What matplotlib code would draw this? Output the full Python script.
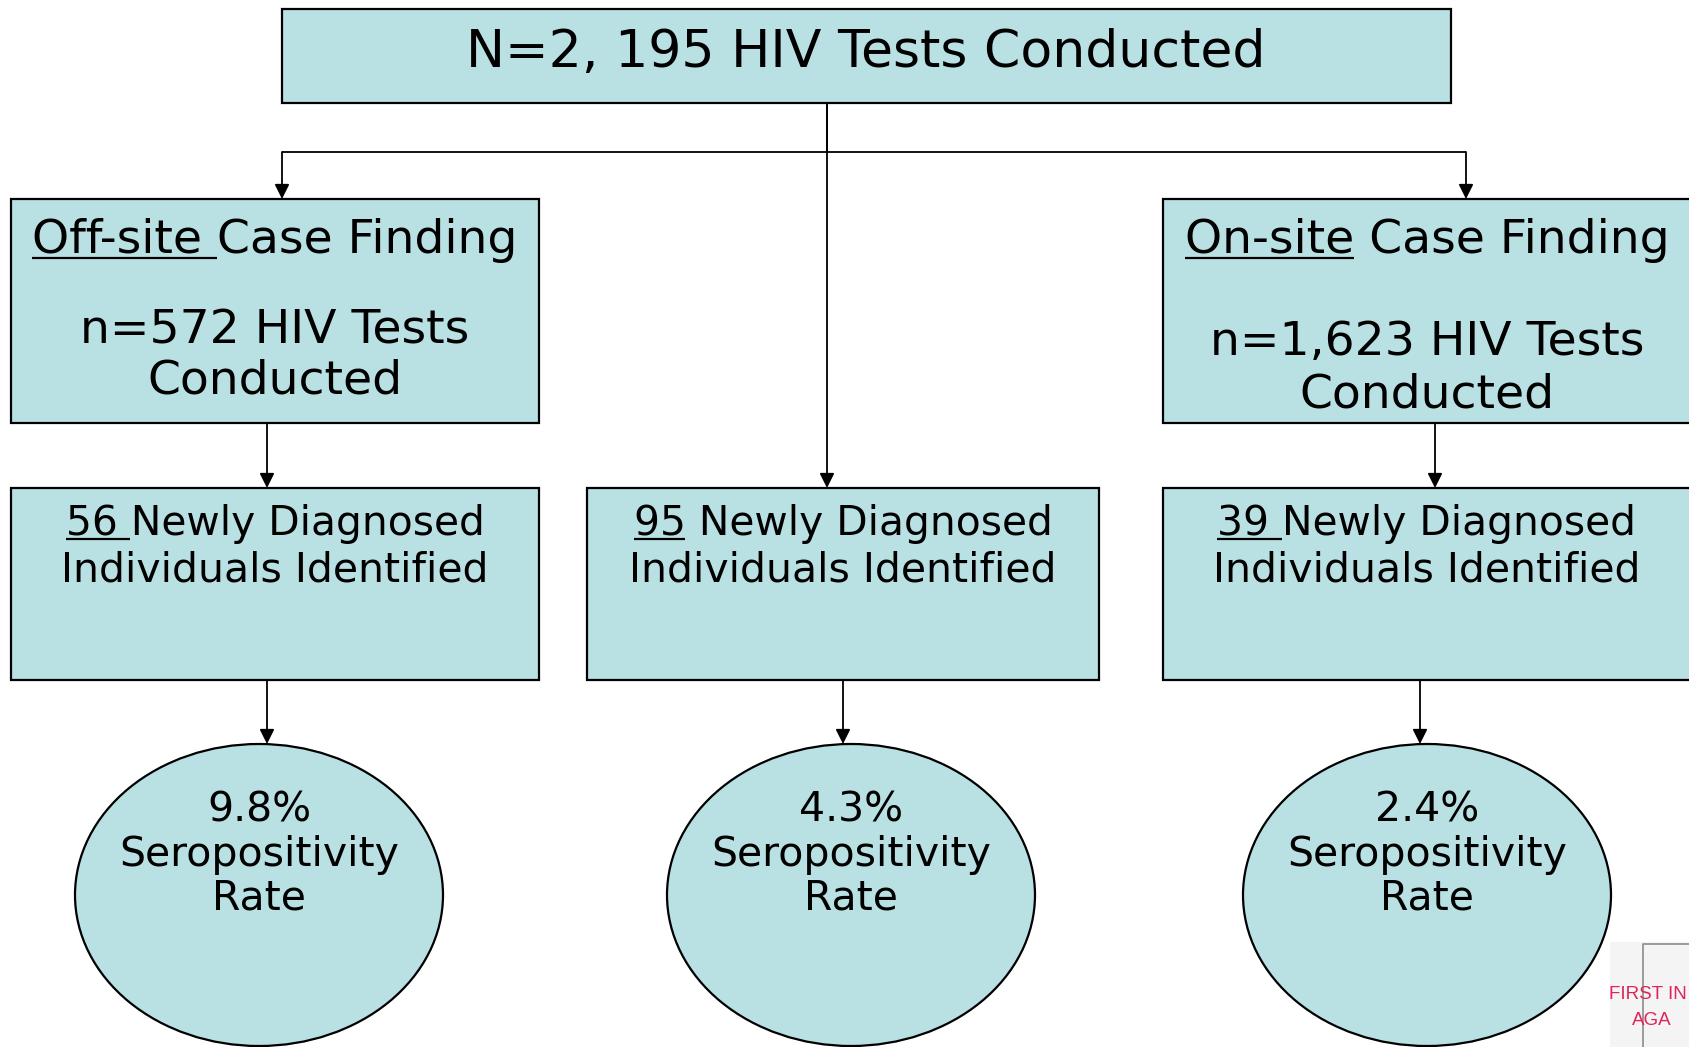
import matplotlib
matplotlib.use("Agg")
import matplotlib.pyplot as plt
from matplotlib.patches import Rectangle, Ellipse

# chart content
top_label = "N=2, 195 HIV Tests Conducted"
site_titles = ["Off-site Case Finding", "On-site Case Finding"]
site_underlined = ["Off-site ", "On-site"]
site_tests = ["572", "1,623"]
new_cases = ["56", "95", "39"]
new_underlined = ["56 ", "95", "39 "]
sero_rates = ["9.8%", "4.3%", "2.4%"]

W, H = 1689, 1047
FILL = "#b9e0e3"
FONT = "DejaVu Sans"

fig = plt.figure(figsize=(W / 100, H / 100), dpi=100)
ax = fig.add_axes([0, 0, 1, 1])
ax.set_xlim(0, W)
ax.set_ylim(H, 0)
ax.axis("off")


def box(x0, y0, x1, y1):
    ax.add_patch(Rectangle((x0, y0), x1 - x0, y1 - y0, facecolor=FILL,
                           edgecolor="black", lw=1.6, zorder=2))


def arrow(x, y0, y1):
    ax.annotate("", xy=(x, y1), xytext=(x, y0),
                arrowprops=dict(arrowstyle="-|>", color="black", lw=1.3,
                                mutation_scale=22, shrinkA=0, shrinkB=0),
                zorder=3)


def line(xs, ys):
    ax.plot(xs, ys, color="black", lw=1.3, solid_capstyle="butt", zorder=1)


underlines = []


def label(x, y, s, size, under=None):
    t = ax.text(x, y, s, ha="center", va="baseline", fontsize=size,
                family=FONT, color="black", zorder=4)
    if under:
        underlines.append((t, under, size))
    return t


# top box
box(282, 9, 1451, 103)
label(866, 67, top_label, 37.5)

# connectors from the top box
line([827, 827], [103, 152])
line([282, 1466], [152, 152])
arrow(282, 152, 199)
arrow(1466, 152, 199)
arrow(827, 103, 488)

# site boxes
site_x = [(11, 539), (1163, 1691)]
site_base = [(253, 343, 394), (253, 355, 407)]
for (x0, x1), title, und, n, (b0, b1, b2) in zip(site_x, site_titles, site_underlined,
                                                  site_tests, site_base):
    box(x0, 199, x1, 423)
    cx = (x0 + x1) / 2
    label(cx, b0, title, 34, under=und)
    label(cx, b1, "n=" + n + " HIV Tests", 34)
    label(cx, b2, "Conducted", 34)

arrow(267, 423, 488)
arrow(1435, 423, 488)

# newly diagnosed boxes
row2_x = [(11, 539), (587, 1099), (1163, 1691)]
for (x0, x1), n, und in zip(row2_x, new_cases, new_underlined):
    box(x0, 488, x1, 680)
    cx = (x0 + x1) / 2
    rest = " Newly Diagnosed" if not und.endswith(" ") else "Newly Diagnosed"
    label(cx, 535, und + rest, 29.3, under=und)
    label(cx, 581, "Individuals Identified", 29.5)

# seropositivity ellipses
ell_x = [259, 851, 1427]
arrow_x = [267, 843, 1420]
for ex, axx, rate in zip(ell_x, arrow_x, sero_rates):
    arrow(axx, 680, 744)
    ax.add_patch(Ellipse((ex, 895), 368, 302, facecolor=FILL, edgecolor="black",
                         lw=1.6, zorder=2))
    label(ex, 821, rate, 29.5)
    label(ex, 866, "Seropositivity", 29.5)
    label(ex, 910, "Rate", 29.5)

# partial logo in the corner
ax.add_patch(Rectangle((1610, 942), 90, 120, facecolor="#f4f4f4", edgecolor="none", zorder=1))
ax.plot([1643, 1643, 1700], [1060, 944, 944], color="#8c8c8c", lw=1.2, zorder=1)
ax.text(1609, 999, "FIRST IN", fontsize=13.5, color="#e0245a", va="baseline",
        family="Liberation Sans", zorder=4)
ax.text(1632, 1025, "AGA", fontsize=13.5, color="#e0245a", va="baseline",
        family="Liberation Sans", zorder=4)

# underlines: measure text extents in pixel space
fig.canvas.draw()
r = fig.canvas.get_renderer()
inv = ax.transData.inverted()
for t, prefix, size in underlines:
    bb = t.get_window_extent(r)
    if prefix.endswith(" "):
        # trailing space is underlined too: measure what follows it
        tmp = ax.text(0, 0, t.get_text()[len(prefix):], fontsize=size, family=FONT)
        x1 = bb.x1 - tmp.get_window_extent(r).width
    else:
        tmp = ax.text(0, 0, prefix, fontsize=size, family=FONT)
        x1 = bb.x0 + tmp.get_window_extent(r).width
    tmp.remove()
    xa, _ = inv.transform((bb.x0, 0))
    xb, _ = inv.transform((x1, 0))
    y = t.get_position()[1] + size * 0.14
    ax.plot([xa, xb], [y, y], color="black", lw=1.6, solid_capstyle="butt", zorder=4)

fig.savefig("out.png", dpi=100)
